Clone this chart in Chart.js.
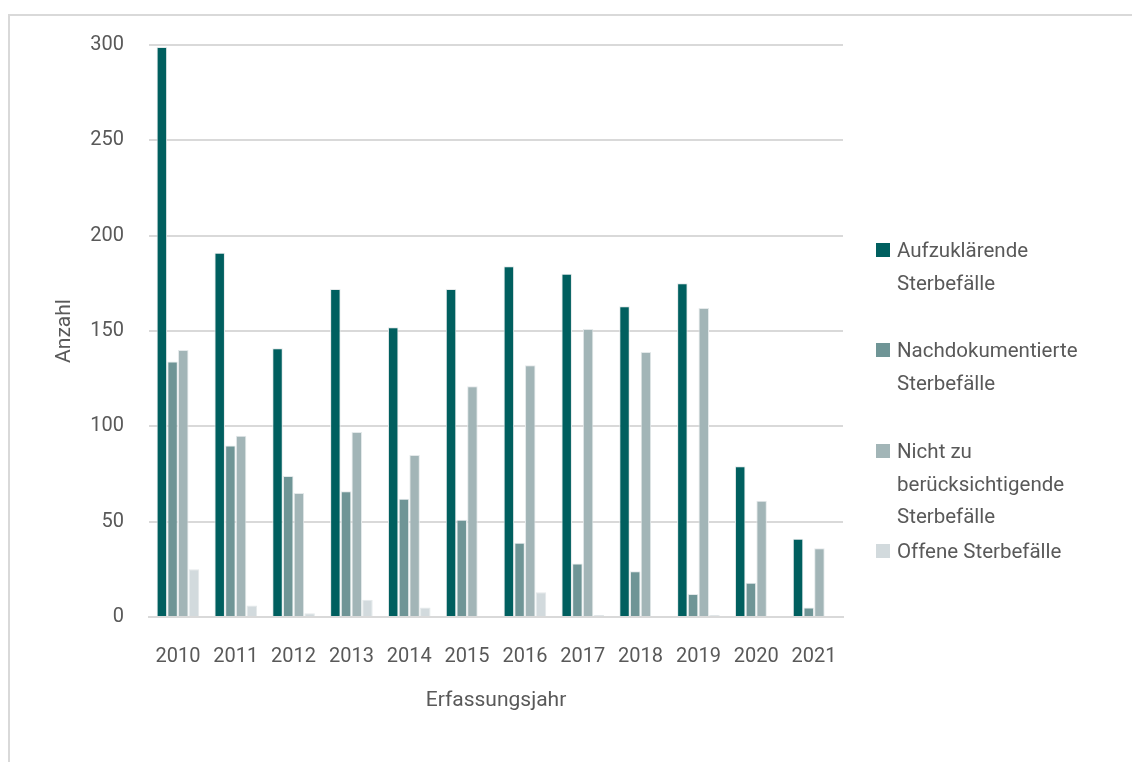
<!DOCTYPE html>
<html>
<head>
<meta charset="utf-8">
<script src="https://cdn.jsdelivr.net/npm/chart.js@4"></script>
<style>
  body { margin: 0; background: #fff; overflow: hidden; }
  #wrap { position: relative; width: 1132px; height: 762px; }
  #frame { position: absolute; left: 8px; top: 14px; width: 1200px; height: 800px; border: 2px solid #d9d9d9; }
  #chart { position: absolute; left: 0; top: 0; }
  .legend-item { position: absolute; left: 876px; font-family: Roboto, sans-serif; font-size: 20.5px; line-height: 32.5px; color: #595959; }
  .legend-box { position: absolute; left: 0; top: 9px; width: 14px; height: 14px; }
  .legend-text { margin-left: 21px; }
</style>
</head>
<body>
<div id="wrap">
  <div id="frame"></div>
  <canvas id="chart" width="1132" height="762"></canvas>
  <div id="legend"></div>
</div>
<script>
const years = ["2010", "2011", "2012", "2013", "2014", "2015", "2016", "2017", "2018", "2019", "2020", "2021"];
const aufzuklaerend = [299, 191, 141, 172, 152, 172, 184, 180, 163, 175, 79, 41];
const nachdokumentiert = [134, 90, 74, 66, 62, 51, 39, 28, 24, 12, 18, 5];
const nichtZuBeruecksichtigen = [140, 95, 65, 97, 85, 121, 132, 151, 139, 162, 61, 36];
const offen = [25, 6, 2, 9, 5, 0, 13, 1, 0, 1, 0, 0];

const seriesLabels = [
  ["Aufzuklärende", "Sterbefälle"],
  ["Nachdokumentierte", "Sterbefälle"],
  ["Nicht zu", "berücksichtigende", "Sterbefälle"],
  ["Offene Sterbefälle"]
];
const seriesColors = ["#005f5f", "#6f9596", "#a2b5b7", "#d2dadd"];
const seriesData = [aufzuklaerend, nachdokumentiert, nichtZuBeruecksichtigen, offen];

const font = "Roboto, sans-serif";
const textColor = "#595959";

new Chart(document.getElementById("chart"), {
  type: "bar",
  data: {
    labels: years,
    datasets: seriesData.map((d, i) => ({
      label: seriesLabels[i].join(" "),
      data: d,
      backgroundColor: seriesColors[i],
      borderColor: "#e4e9ea",
      borderWidth: 1,
      barPercentage: 0.98,
      categoryPercentage: 0.74
    }))
  },
  options: {
    responsive: false,
    animation: false,
    layout: { padding: { left: 52, right: 289, top: 45, bottom: 45 } },
    plugins: { legend: { display: false }, tooltip: { enabled: false } },
    scales: {
      x: {
        grid: { display: false, drawTicks: false },
        border: { color: "#d9d9d9", width: 2 },
        ticks: { color: textColor, font: { family: font, size: 20 }, padding: 28 },
        title: { display: true, text: "Erfassungsjahr", color: textColor, font: { family: font, size: 21 }, padding: { top: 8 } },
        afterFit: (s) => { s.height = 100; }
      },
      y: {
        min: 0,
        max: 300,
        ticks: { stepSize: 50, color: textColor, font: { family: font, size: 20 }, padding: 25 },
        grid: { color: "#d9d9d9", lineWidth: 2, drawTicks: false },
        border: { display: false },
        title: { display: true, text: "Anzahl", color: textColor, font: { family: font, size: 21 }, padding: 0 },
        afterFit: (s) => { s.width = 97; }
      }
    }
  }
});

// legend, built from the series names and colours
const legend = document.getElementById("legend");
const legendTops = [234, 334, 435, 535];
seriesLabels.forEach((lines, i) => {
  const item = document.createElement("div");
  item.className = "legend-item";
  item.style.top = legendTops[i] + "px";
  const box = document.createElement("div");
  box.className = "legend-box";
  box.style.background = seriesColors[i];
  item.appendChild(box);
  const text = document.createElement("div");
  text.className = "legend-text";
  text.innerHTML = lines.join("<br>");
  item.appendChild(text);
  legend.appendChild(item);
});
</script>
</body>
</html>
